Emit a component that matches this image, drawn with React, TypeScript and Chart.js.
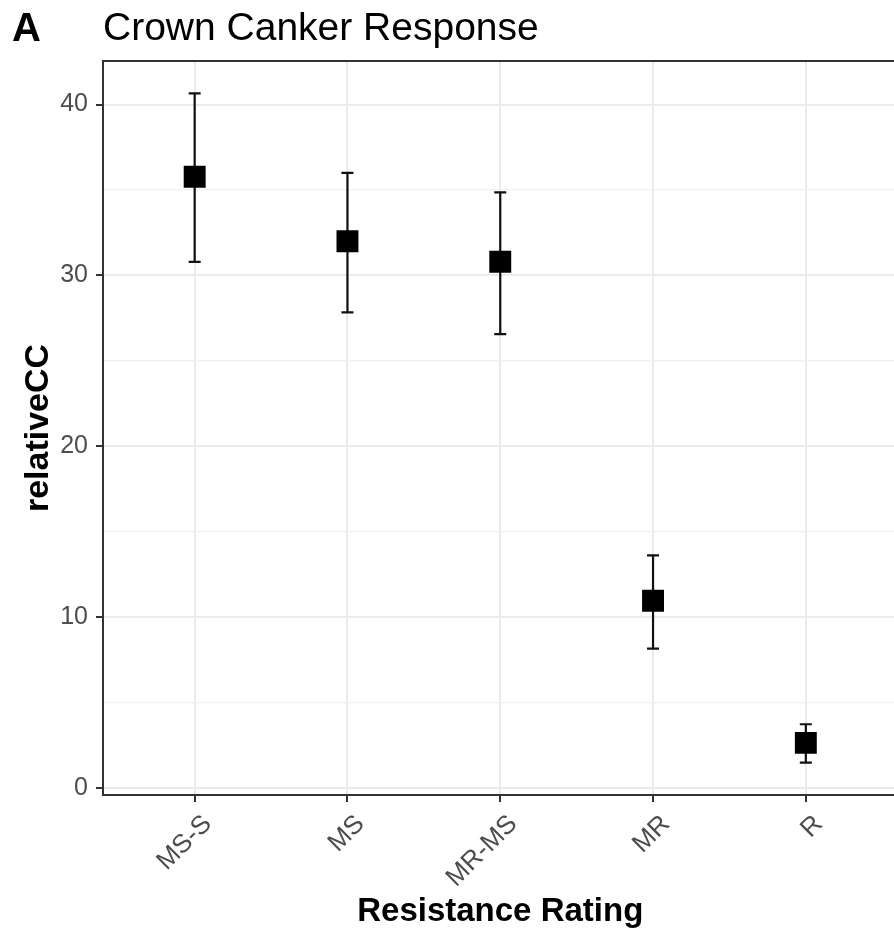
import React, { useEffect, useRef } from 'react';
import { Chart, registerables } from 'chart.js';

Chart.register(...registerables);

const categories = ['MS-S', 'MS', 'MR-MS', 'MR', 'R'];
const meanValues = [35.78, 32.0, 30.8, 10.97, 2.65];
const lowerValues = [30.79, 27.84, 26.57, 8.17, 1.5];
const upperValues = [40.65, 36.0, 34.86, 13.62, 3.74];
const yTickValues = [0, 5, 10, 15, 20, 25, 30, 35, 40];
const yLabelValues = [0, 10, 20, 30, 40];

const FONT = "'Liberation Sans', Arial, Helvetica, sans-serif";

const errorBarPlugin = {
  id: 'errorBars',
  beforeDatasetsDraw(chart: any) {
    const { ctx } = chart;
    const x = chart.scales.x;
    const y = chart.scales.y;
    ctx.save();
    ctx.strokeStyle = '#111';
    ctx.lineWidth = 2.2;
    categories.forEach((_c, i) => {
      const px = x.getPixelForValue(i);
      const top = y.getPixelForValue(upperValues[i]);
      const bot = y.getPixelForValue(lowerValues[i]);
      ctx.beginPath();
      ctx.moveTo(px, top);
      ctx.lineTo(px, bot);
      ctx.moveTo(px - 6, top);
      ctx.lineTo(px + 6, top);
      ctx.moveTo(px - 6, bot);
      ctx.lineTo(px + 6, bot);
      ctx.stroke();
    });
    ctx.restore();
  },
};

const borderPlugin = {
  id: 'panelBorder',
  afterDatasetsDraw(chart: any) {
    const { ctx, chartArea } = chart;
    ctx.save();
    ctx.strokeStyle = '#333333';
    ctx.lineWidth = 2;
    ctx.strokeRect(chartArea.left, chartArea.top, chartArea.right - chartArea.left, chartArea.bottom - chartArea.top);
    ctx.restore();
  },
};

const tagPlugin = {
  id: 'panelTag',
  afterDraw(chart: any) {
    const { ctx } = chart;
    ctx.save();
    ctx.fillStyle = '#000';
    ctx.font = `bold 40px ${FONT}`;
    ctx.textAlign = 'left';
    ctx.textBaseline = 'middle';
    ctx.fillText('A', 12, 29.5);
    ctx.restore();
  },
};

export default function App() {
  const ref = useRef<HTMLCanvasElement | null>(null);

  useEffect(() => {
    if (!ref.current) return;
    const chart = new Chart(ref.current, {
      type: 'scatter',
      data: {
        datasets: [
          {
            label: 'relativeCC',
            data: categories.map((_c, i) => ({ x: i, y: meanValues[i] })),
            pointStyle: 'rect',
            pointRadius: 15.5,
            pointHoverRadius: 15.5,
            backgroundColor: '#000',
            borderColor: '#000',
            borderWidth: 0,
            showLine: false,
          },
        ],
      },
      options: {
        animation: false,
        responsive: false,
        events: [],
        layout: { padding: { left: 0, right: 2, top: 0, bottom: 0 } },
        plugins: {
          legend: { display: false },
          tooltip: { enabled: false },
          title: {
            display: true,
            text: 'Crown Canker Response',
            align: 'start',
            fullSize: false,
            color: '#000',
            font: { family: FONT, size: 39, weight: 'normal' },
            padding: { top: 6, bottom: 8.2 },
          },
        },
        scales: {
          x: {
            type: 'linear',
            min: -0.6,
            max: 4.6,
            afterBuildTicks: (s: any) => {
              s.ticks = categories.map((_c, i) => ({ value: i }));
            },
            afterFit: (s: any) => {
              s.height = 138;
            },
            border: { display: false },
            grid: {
              color: '#ebebeb',
              lineWidth: 2,
              drawTicks: true,
              tickLength: 7,
              tickColor: '#333333',
              tickWidth: 2,
            },
            ticks: {
              autoSkip: false,
              minRotation: 45,
              maxRotation: 45,
              labelOffset: 13,
              padding: 7,
              color: '#4d4d4d',
              font: { family: FONT, size: 26 },
              callback: (v: any) => categories[Number(v)] ?? '',
            },
            title: {
              display: true,
              text: 'Resistance Rating',
              color: '#000',
              font: { family: FONT, size: 33, weight: 'bold' },
              padding: { top: 0, bottom: 1 },
            },
          },
          y: {
            type: 'linear',
            min: -0.4,
            max: 42.55,
            afterBuildTicks: (s: any) => {
              s.ticks = yTickValues.map((v) => ({ value: v }));
            },
            afterFit: (s: any) => {
              s.width = 103;
            },
            border: { display: false },
            grid: {
              color: (c: any) => (yLabelValues.includes(c.tick?.value) ? '#ebebeb' : '#f0f0f0'),
              lineWidth: (c: any) => (yLabelValues.includes(c.tick?.value) ? 2 : 1.3),
              drawTicks: true,
              tickLength: 7,
              tickColor: (c: any) => (yLabelValues.includes(c.tick?.value) ? '#333333' : 'rgba(0,0,0,0)'),
              tickWidth: 2,
            },
            ticks: {
              autoSkip: false,
              padding: 8,
              color: '#4d4d4d',
              font: { family: FONT, size: 25 },
              callback: (v: any) => (yLabelValues.includes(Number(v)) ? String(v) : ''),
            },
            title: {
              display: true,
              text: 'relativeCC',
              color: '#000',
              font: { family: FONT, size: 34, weight: 'bold' },
              padding: { top: 18, bottom: 0 },
            },
          },
        },
      },
      plugins: [errorBarPlugin, borderPlugin, tagPlugin],
    } as any);
    return () => chart.destroy();
  }, []);

  return (
    <div
      style={{
        position: 'absolute',
        left: 0,
        top: 0,
        width: 894,
        height: 933,
        overflow: 'hidden',
        background: '#fff',
      }}
    >
      <canvas ref={ref} width={913} height={933} style={{ display: 'block' }} />
    </div>
  );
}
